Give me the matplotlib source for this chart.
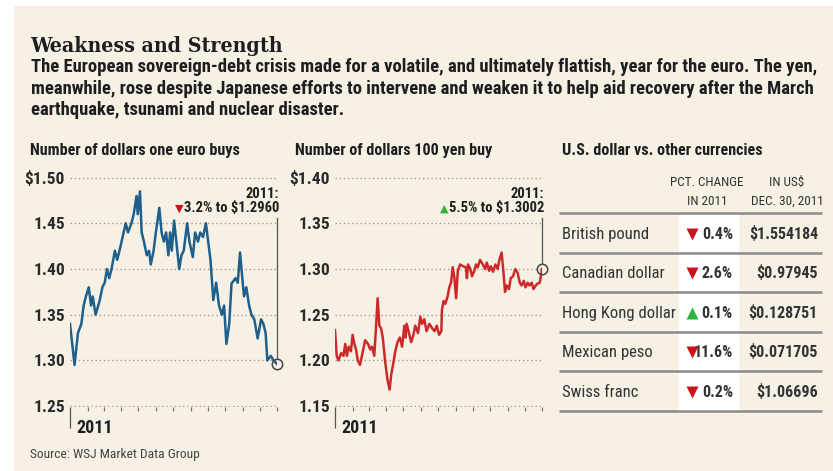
import matplotlib
matplotlib.use("Agg")
import matplotlib.pyplot as plt
from matplotlib import font_manager as fm
from matplotlib.patches import Rectangle

# ---- data ----
# day of year / dollars per euro
euro_days = [0, 8, 14, 20, 24, 28, 33, 37, 40, 45, 52, 57, 61, 65, 69, 73, 79, 83, 87,
             98, 102, 108, 112, 117, 119, 123, 126, 130, 135, 139, 142, 147, 151, 157,
             161, 165, 169, 173, 176, 179, 183, 187, 192, 196, 200, 206, 210, 216, 220,
             225, 229, 234, 239, 243, 247, 252, 257, 262, 267, 271, 275, 280, 284, 291,
             295, 299, 303, 306, 310, 315, 319, 324, 330, 336, 340, 344, 347, 353, 358, 364]
euro_rate = [1.340, 1.295, 1.330, 1.340, 1.360, 1.370, 1.380, 1.360, 1.370, 1.350,
             1.365, 1.380, 1.385, 1.400, 1.390, 1.400, 1.420, 1.410, 1.420, 1.450,
             1.440, 1.450, 1.460, 1.480, 1.460, 1.485, 1.440, 1.430, 1.415, 1.420,
             1.405, 1.420, 1.440, 1.467, 1.440, 1.430, 1.440, 1.415, 1.440, 1.420,
             1.453, 1.430, 1.400, 1.415, 1.420, 1.450, 1.430, 1.413, 1.440, 1.430,
             1.440, 1.435, 1.450, 1.430, 1.410, 1.366, 1.385, 1.360, 1.350, 1.360,
             1.318, 1.340, 1.384, 1.390, 1.385, 1.418, 1.390, 1.370, 1.380, 1.360,
             1.350, 1.345, 1.324, 1.345, 1.340, 1.330, 1.300, 1.305, 1.300, 1.296]

# day of year / dollars per 100 yen
yen_days = [0, 3, 6, 11, 15, 18, 21, 24, 28, 31, 34, 37, 40, 44, 49, 53, 58, 62, 65,
            69, 72, 75, 78, 81, 84, 88, 92, 96, 99, 102, 106, 110, 114, 118, 122, 124,
            126, 130, 134, 138, 141, 146, 150, 153, 157, 161, 166, 171, 175, 179, 183,
            187, 188, 191, 194, 198, 201, 204, 207, 210, 213, 216, 220, 225, 230, 232,
            234, 238, 241, 245, 248, 251, 255, 260, 264, 267, 271, 274, 278, 282, 286,
            289, 293, 296, 299, 302, 306, 309, 313, 317, 321, 325, 328, 332, 335, 339,
            342, 346, 349, 353, 356, 360, 362, 364]
yen_rate = [1.233, 1.205, 1.200, 1.208, 1.205, 1.218, 1.205, 1.215, 1.210, 1.228,
            1.218, 1.212, 1.200, 1.195, 1.210, 1.222, 1.218, 1.212, 1.215, 1.205,
            1.235, 1.268, 1.238, 1.235, 1.225, 1.200, 1.180, 1.168, 1.185, 1.195,
            1.210, 1.220, 1.225, 1.215, 1.238, 1.225, 1.240, 1.230, 1.220, 1.228,
            1.238, 1.230, 1.248, 1.240, 1.245, 1.232, 1.240, 1.235, 1.232, 1.238,
            1.228, 1.232, 1.255, 1.265, 1.262, 1.270, 1.280, 1.285, 1.302, 1.290,
            1.268, 1.298, 1.305, 1.303, 1.302, 1.290, 1.305, 1.300, 1.292, 1.298,
            1.305, 1.302, 1.310, 1.305, 1.300, 1.307, 1.298, 1.303, 1.297, 1.305,
            1.300, 1.310, 1.318, 1.298, 1.275, 1.282, 1.278, 1.290, 1.292, 1.300,
            1.296, 1.285, 1.282, 1.287, 1.280, 1.285, 1.282, 1.285, 1.278, 1.282,
            1.284, 1.285, 1.292, 1.300]

month_starts = [0, 31, 59, 90, 120, 151, 181, 212, 243, 273, 304, 334, 364]

euro_ticks = [1.25, 1.30, 1.35, 1.40, 1.45, 1.50]
yen_ticks = [1.15, 1.20, 1.25, 1.30, 1.35, 1.40]

euro_change, euro_note = -3.2, "3.2% to $1.2960"
yen_change, yen_note = 5.5, "5.5% to $1.3002"

currencies = ["British pound", "Canadian dollar", "Hong Kong dollar",
              "Mexican peso", "Swiss franc"]
pct_change = [-0.4, -2.6, 0.1, -11.6, -0.2]
usd_value = ["$1.554184", "$0.97945", "$0.128751", "$0.071705", "$1.06696"]

# ---- fonts ----
_fonts = [(f.name, f.stretch) for f in fm.fontManager.ttflist]


def pick(cands, fallback):
    for fam, st in cands:
        if any(n == fam and (st is None or s == st) for n, s in _fonts):
            return fam, (st or "normal"), True
    return fallback, "normal", False


SANS, SANS_ST, cond_ok = pick([("Roboto Condensed", None), ("Open Sans Condensed", None),
                               ("Liberation Sans Narrow", None), ("DejaVu Sans Condensed", None),
                               ("DejaVu Sans", "condensed"), ("Noto Sans", "condensed"),
                               ("Open Sans", "condensed")], "Roboto")
SERIF, SERIF_ST, serif_ok = pick([("DejaVu Serif Condensed", None), ("DejaVu Serif", "condensed")],
                                 "Liberation Serif")
K = 1.0 if cond_ok else 0.84
sans = dict(family=[SANS, "DejaVu Sans"], fontstretch=SANS_ST)
serif = dict(family=[SERIF, "DejaVu Serif"], fontstretch=SERIF_ST)

CREAM = "#f6f1e4"
INK = "#1e1e1e"
BLUE = "#1f5f8c"
RED = "#cc2a2a"
TRI_RED = "#c8141c"
TRI_GREEN = "#2fb53a"
GRID = "#9c9c9c"

W, H = 833, 471
fig = plt.figure(figsize=(W / 100, H / 100), dpi=100)
fig.patch.set_facecolor("white")

# pixel canvas for background, headings and the table
cv = fig.add_axes([0, 0, 1, 1])
cv.set_xlim(0, W)
cv.set_ylim(H, 0)
cv.axis("off")
cv.add_patch(Rectangle((14, 6), W, H, color=CREAM, zorder=0))


def txt(x, y, s, size, weight="normal", color=INK, ha="left", font=sans, **kw):
    return cv.text(x, y, s, fontsize=size * (K if font is sans else 1), fontweight=weight,
                   color=color, ha=ha, va="baseline", **font, **kw)


txt(30, 52, "Weakness and Strength", 15.3 if serif_ok else 17, "bold", font=serif)
sub = ["The European sovereign-debt crisis made for a volatile, and ultimately flattish, year for the euro. The yen,",
       "meanwhile, rose despite Japanese efforts to intervene and weaken it to help aid recovery after the March",
       "earthquake, tsunami and nuclear disaster."]
for i, line in enumerate(sub):
    txt(31, 72 + 21.7 * i, line, 13.4, "bold")

txt(30, 155, "Number of dollars one euro buys", 11.6, "bold")
txt(295, 155, "Number of dollars 100 yen buy", 11.6, "bold")
txt(562, 155, "U.S. dollar vs. other currencies", 11.6, "bold")
txt(30, 458, "Source: WSJ Market Data Group", 9.7, color="#444444")

# ---- table ----
row_h = 39.5
top = 213
cv.add_patch(Rectangle((679, top), 59, row_h * len(currencies), color="white", zorder=1))
txt(707, 186, "PCT. CHANGE", 9.5, ha="center", color="#333333")
txt(707, 205, "IN 2011", 9.5, ha="center", color="#333333")
txt(787, 186, "IN US$", 9.5, ha="center", color="#333333")
txt(787, 205, "DEC. 30, 2011", 9.5, ha="center", color="#333333")
cv.hlines([top + row_h * i for i in range(len(currencies) + 1)], 559, 822,
          color="#8a8a8a", lw=1.8, zorder=2)
for i, (name, p, v) in enumerate(zip(currencies, pct_change, usd_value)):
    yc = top + row_h * (i + 0.5)
    txt(562, yc + 6, name, 12, color="#333333")
    txt(733, yc + 6, f"{abs(p):.1f}%", 11.5, "bold", ha="right", color="#333333", zorder=3)
    txt(818, yc + 6, v, 11.5, "bold", ha="right", color="#333333")
    cv.plot(692, yc + 1, marker="^" if p > 0 else "v", ms=9,
            color=TRI_GREEN if p > 0 else TRI_RED, mec="none", zorder=3)


# ---- line charts ----
def rate_panel(x0, days, rate, ticks, color, change, note):
    ax = fig.add_axes([x0 / W, (H - 407) / H, 207 / W, 230.3 / H])
    ax.patch.set_visible(False)
    for s in ax.spines.values():
        s.set_visible(False)
    lo, hi = ticks[0], ticks[-1]
    ax.set_xlim(0, 364)
    ax.set_ylim(lo - 0.001, hi + 0.001)
    ax.set_yticks(ticks, [f"${t:.2f}" if t == hi else f"{t:.2f}" for t in ticks])
    ax.yaxis.grid(True, linestyle=(0, (1, 2)), color=GRID, lw=1)
    ax.tick_params(axis="y", length=0, pad=3.6, labelsize=12.5 * K, labelcolor="#2a2a2a")
    for lbl in ax.get_yticklabels():
        lbl.set_fontweight("bold")
        lbl.set_family(sans["family"])
        lbl.set_fontstretch(SANS_ST)
    ax.set_xticks([0], [""])
    ax.set_xticks(month_starts[1:], minor=True)
    ax.tick_params(axis="x", which="major", length=15, width=0.9, color="#555555")
    ax.tick_params(axis="x", which="minor", length=3, width=0.9, color="#777777")
    ax.annotate("2011", (0, 0), xycoords=ax.get_xaxis_transform(), xytext=(4.5, -19),
                textcoords="offset points", fontsize=13 * K, fontweight="bold",
                color=INK, va="baseline", **sans)

    ax.plot(days, rate, color=color, lw=1.8, solid_joinstyle="round", zorder=3)
    frac = (rate[-1] - lo) / (hi - lo)
    ax.plot([days[-1]] * 2, [frac + 0.025, 0.82], transform=ax.get_xaxis_transform(),
            color="#555555", lw=0.9, clip_on=False)
    ax.plot(days[-1], rate[-1], "o", ms=7.5, mfc="none", mec="#444444", mew=1.1,
            clip_on=False, zorder=4)
    ax.annotate("2011:", (1, 0.907), xycoords="axes fraction", xytext=(1.5, 0),
                textcoords="offset points", ha="right", va="baseline",
                fontsize=10.5 * K, fontweight="bold", color=INK, **sans)
    t = ax.annotate(note, (1, 0.847), xycoords="axes fraction", xytext=(1.5, 0),
                    textcoords="offset points", ha="right", va="baseline",
                    fontsize=10.5 * K, fontweight="bold", color=INK, **sans)
    ax.annotate("\u25b2" if change > 0 else "\u25bc", (0, 0.45), xycoords=t,
                xytext=(-0.5, 0), textcoords="offset points", ha="right", va="center",
                fontsize=8, color=TRI_GREEN if change > 0 else TRI_RED,
                family="DejaVu Sans")
    return ax


rate_panel(70, euro_days, euro_rate, euro_ticks, BLUE, euro_change, euro_note)
rate_panel(335, yen_days, yen_rate, yen_ticks, RED, yen_change, yen_note)

fig.savefig("out.png", dpi=100, facecolor=fig.get_facecolor())
